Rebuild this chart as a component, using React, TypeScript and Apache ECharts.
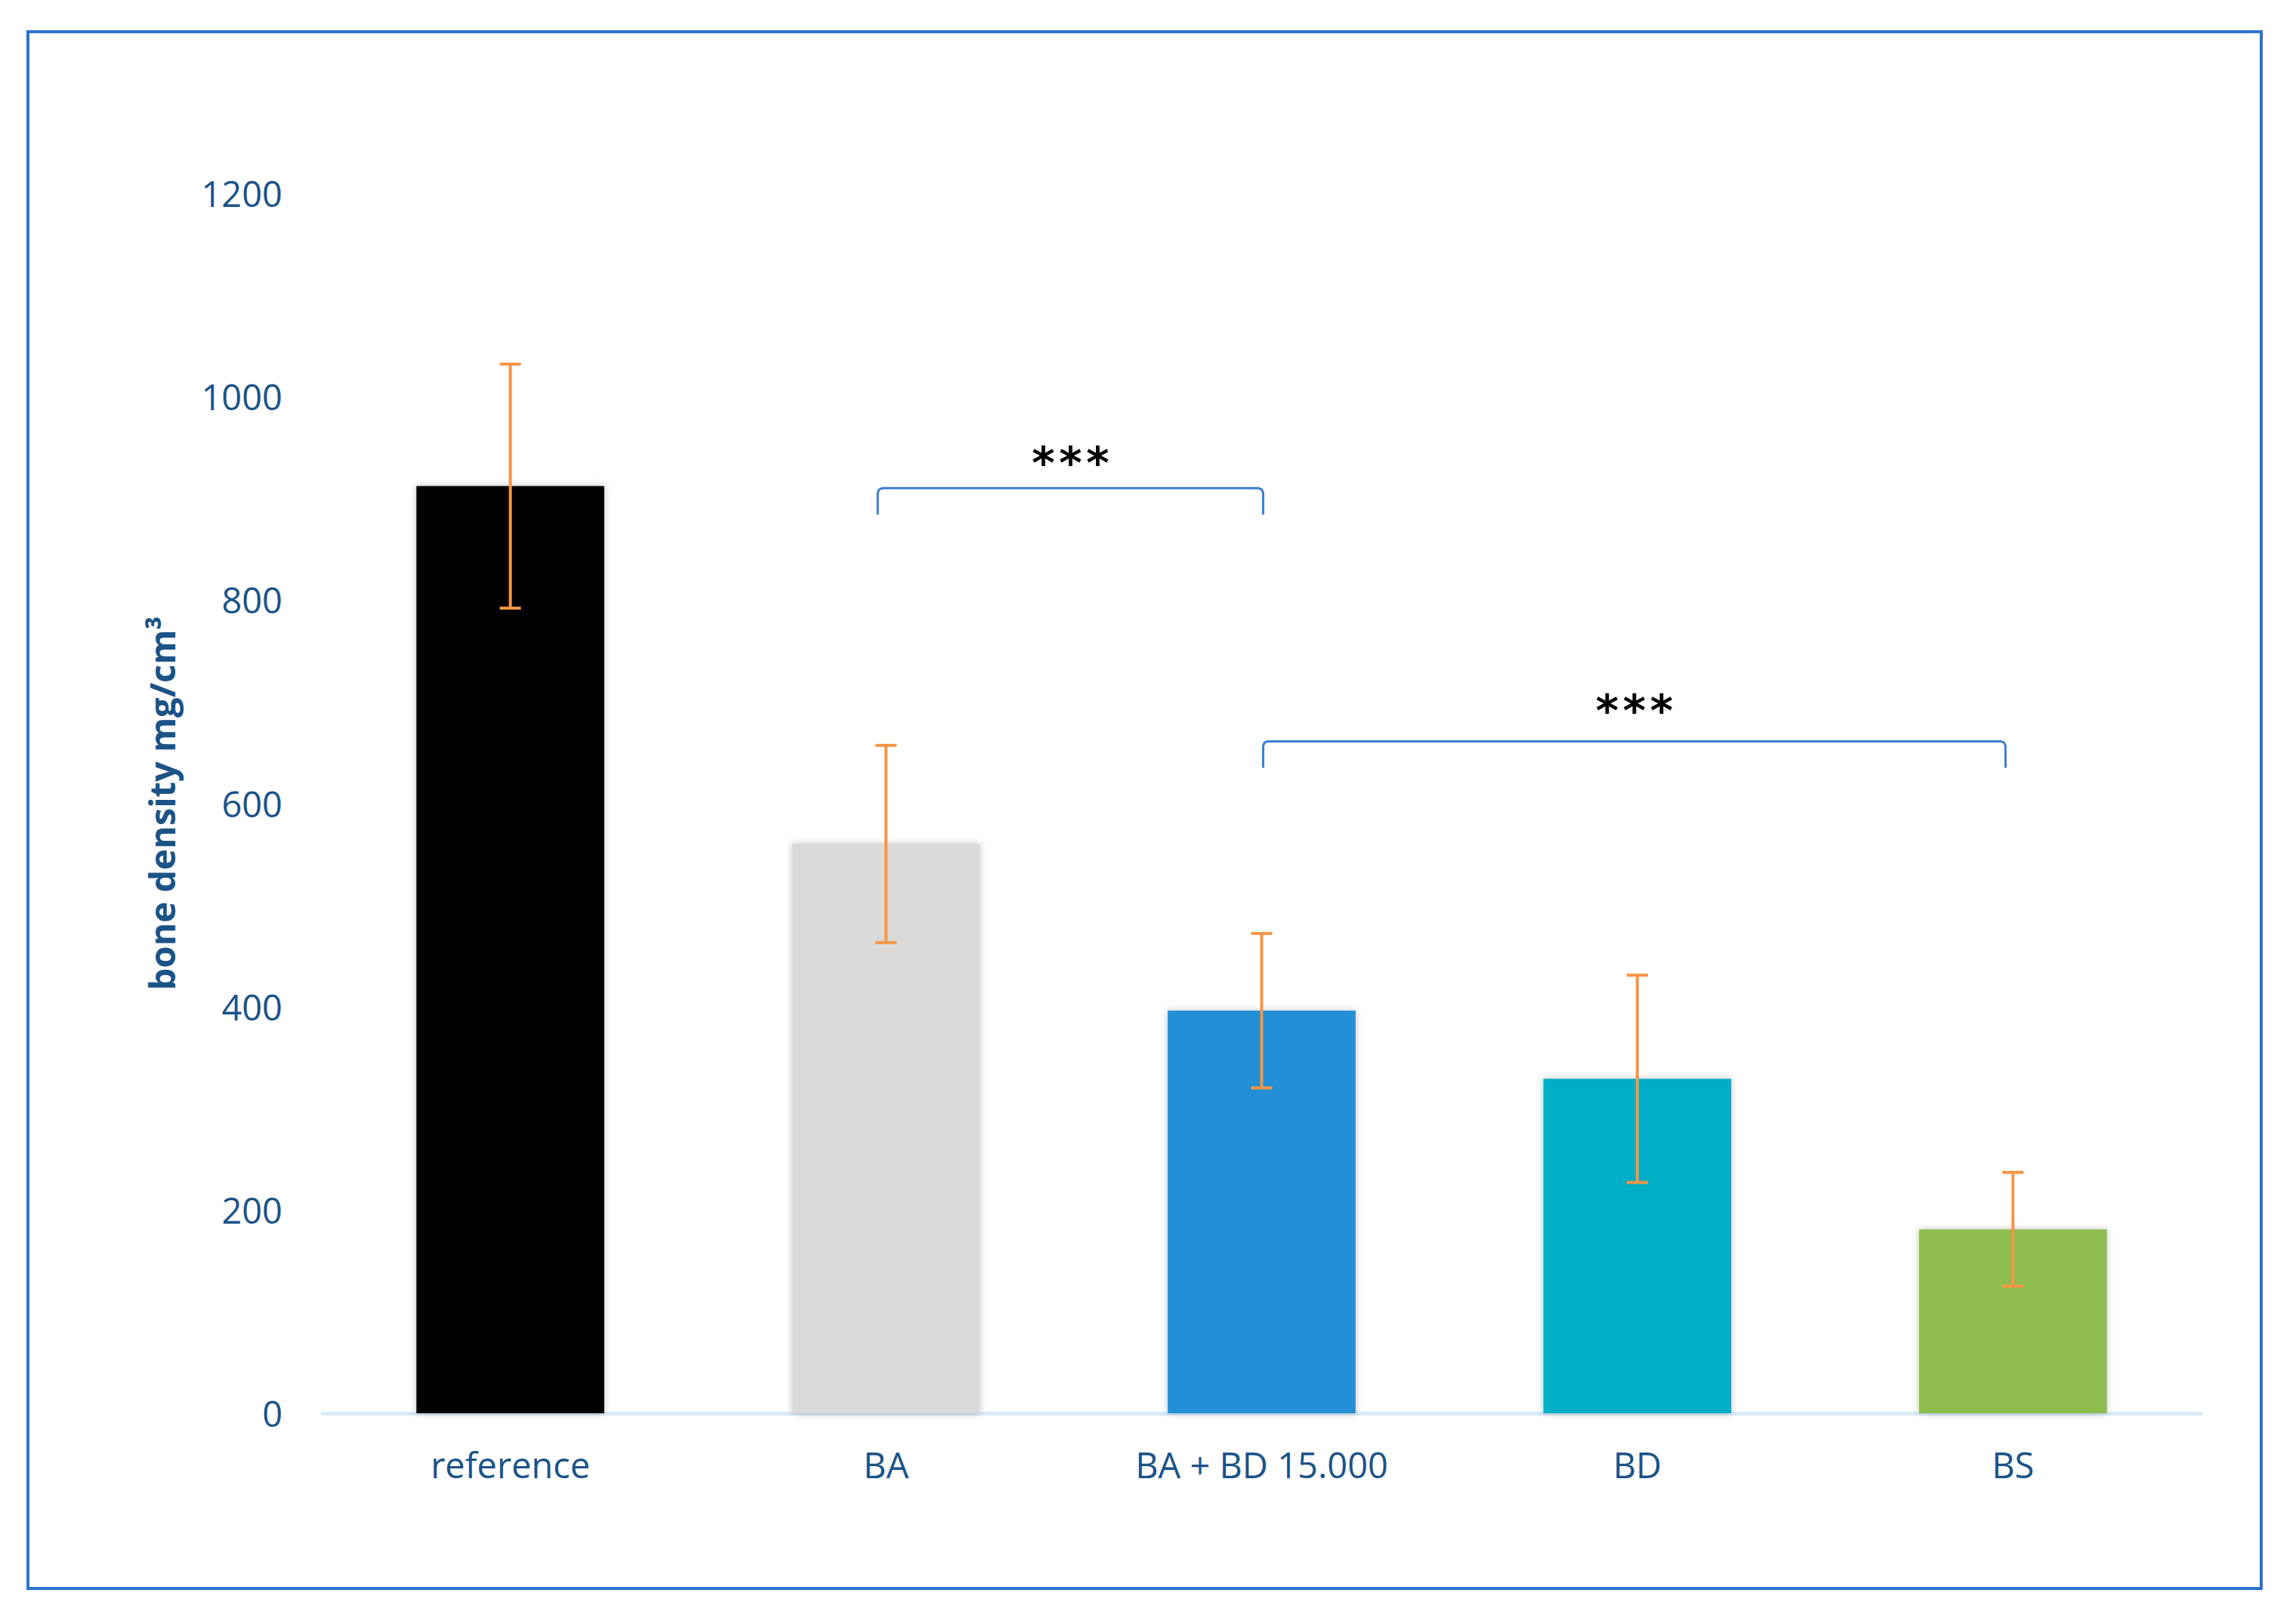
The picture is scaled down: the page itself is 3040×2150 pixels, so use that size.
import React, { useEffect, useRef } from 'react';
import * as echarts from 'echarts';

const categories = ['reference', 'BA', 'BA + BD 15.000', 'BD', 'BS'];
const means = [912, 560, 396, 329, 181];
const errors = [120, 97, 76, 102, 56];
const barColors = ['#000000', '#d9d9d9', '#228fd7', '#00aec7', '#8fbc50'];
const yAxisName = 'bone density mg/cm³';

// significance brackets: from category, to category, bar level, leg end, star level
const bracketFrom = [1, 2];
const bracketTo = [2, 4];
const bracketFromShift = [-0.022, 0.004];
const bracketToShift = [0.004, -0.02];
const bracketLevel = [910, 661];
const bracketLegEnd = [884, 635];
const starLevel = [935, 691];
const starText = ['*', '*'];

const FONT = '"Open Sans", "Noto Sans", sans-serif';
const LABEL_COLOR = '#1b5387';

export default function App() {
  const ref = useRef<HTMLDivElement>(null);

  useEffect(() => {
    if (!ref.current) return;
    const chart = echarts.init(ref.current, undefined, { renderer: 'svg' });

    const errorData = means.map((m, i) => [i, m - errors[i], m + errors[i]]);
    const bracketData = bracketFrom.map((f, i) => [f, bracketTo[i], bracketLevel[i], bracketLegEnd[i], starLevel[i], i]);

    chart.setOption({
      animation: false,
      backgroundColor: '#ffffff',
      graphic: [
        {
          type: 'rect',
          shape: { x: 37, y: 42, width: 2957, height: 2061 },
          style: { fill: 'none', stroke: '#2b73cc', lineWidth: 4 },
          z: 0,
        },
      ],
      grid: { left: 427, right: 126, top: 256, bottom: 279, containLabel: false },
      xAxis: {
        type: 'category',
        data: categories,
        axisLine: { show: true, lineStyle: { color: '#d8ebf8', width: 5 } },
        axisTick: { show: false },
        axisLabel: { color: LABEL_COLOR, fontFamily: FONT, fontSize: 47, margin: 44 },
        splitLine: { show: false },
      },
      yAxis: {
        type: 'value',
        min: 0,
        max: 1200,
        interval: 200,
        name: yAxisName,
        nameLocation: 'middle',
        nameGap: 190,
        nameRotate: 90,
        nameTextStyle: { color: LABEL_COLOR, fontFamily: FONT, fontSize: 47, fontWeight: 'bold' },
        axisLine: { show: false },
        axisTick: { show: false },
        splitLine: { show: false },
        axisLabel: {
          color: LABEL_COLOR,
          fontFamily: FONT,
          fontSize: 47,
          margin: 53,
          formatter: (v: number) => String(v),
        },
      },
      series: [
        {
          type: 'bar',
          barWidth: '50%',
          data: means.map((v, i) => ({
            value: v,
            itemStyle: {
              color: barColors[i],
              shadowColor: 'rgba(0,0,0,0.25)',
              shadowBlur: 10,
            },
          })),
          z: 2,
        },
        {
          type: 'custom',
          z: 3,
          data: errorData,
          renderItem: (params: any, api: any) => {
            const lo = api.coord([api.value(0), api.value(1)]);
            const hi = api.coord([api.value(0), api.value(2)]);
            const x = lo[0];
            const cap = 14;
            const style = { stroke: '#f79646', lineWidth: 4 };
            return {
              type: 'group',
              children: [
                { type: 'line', shape: { x1: x, y1: lo[1], x2: x, y2: hi[1] }, style },
                { type: 'line', shape: { x1: x - cap, y1: lo[1], x2: x + cap, y2: lo[1] }, style },
                { type: 'line', shape: { x1: x - cap, y1: hi[1], x2: x + cap, y2: hi[1] }, style },
              ],
            };
          },
        },
        {
          type: 'custom',
          z: 4,
          data: bracketData,
          renderItem: (params: any, api: any) => {
            const idx = api.value(5);
            const band = api.size([1, 0])[0];
            const f = api.value(0);
            const t = api.value(1);
            const fx = band * bracketFromShift[idx];
            const tx = band * bracketToShift[idx];
            const p1 = api.coord([f, api.value(3)]);
            const p2 = api.coord([f, api.value(2)]);
            const p3 = api.coord([t, api.value(2)]);
            const p4 = api.coord([t, api.value(3)]);
            const s = api.coord([f, api.value(4)]);
            const lx = p1[0] + fx;
            const rx = p3[0] + tx;
            const mid = (lx + rx) / 2;
            const r = 6;
            const starStyle = (dx: number) => ({
              type: 'text',
              x: mid + dx,
              y: s[1],
              style: {
                text: starText[idx],
                fill: '#000000',
                font: `bold 58px "DejaVu Sans", sans-serif`,
                align: 'center',
                verticalAlign: 'middle',
              },
            });
            return {
              type: 'group',
              children: [
                {
                  type: 'polyline',
                  shape: {
                    points: [
                      [lx, p1[1]],
                      [lx, p2[1] + r],
                      [lx + r * 0.3, p2[1] + r * 0.3],
                      [lx + r, p2[1]],
                      [rx - r, p3[1]],
                      [rx - r * 0.3, p3[1] + r * 0.3],
                      [rx, p3[1] + r],
                      [rx, p4[1]],
                    ],
                  },
                  style: { stroke: '#3a80d2', lineWidth: 3, fill: 'none' },
                },
                starStyle(-36),
                starStyle(0),
                starStyle(36),
              ],
            };
          },
        },
      ],
    });

    return () => chart.dispose();
  }, []);

  return (
    <div
      ref={ref}
      style={{ position: 'fixed', left: 0, top: 0, width: 3040, height: 2150, background: '#fff' }}
    />
  );
}
